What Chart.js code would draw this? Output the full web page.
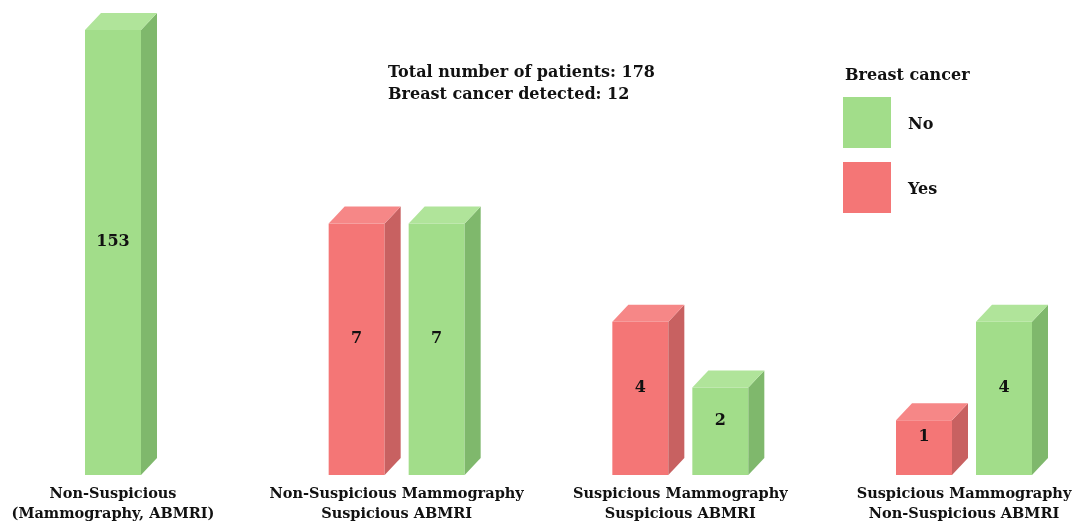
<!DOCTYPE html>
<html>
<head>
<meta charset="utf-8">
<script src="https://cdn.jsdelivr.net/npm/chart.js@4.4.1/dist/chart.umd.min.js"></script>
<style>
  html, body { margin: 0; padding: 0; background: #fff; }
  #wrap { width: 1072px; height: 528px; }
</style>
</head>
<body>
<div id="wrap"><canvas id="chart"></canvas></div>
<script>
const categories = [
  ["Non-Suspicious", "(Mammography, ABMRI)"],
  ["Non-Suspicious Mammography", "Suspicious ABMRI"],
  ["Suspicious Mammography", "Suspicious ABMRI"],
  ["Suspicious Mammography", "Non-Suspicious ABMRI"]
]
const cancerYes = [null, 7, 4, 1]
const cancerNo = [153, 7, 2, 4]
const legendTitle = "Breast cancer"

const FONT = "'DejaVu Serif', serif"
const RED = { front: "#f47676", side: "#c86161", top: "#f68787" }
const GREEN = { front: "#a2dd8a", side: "#7fb86c", top: "#b0e49a" }
const DX = 16, DY = 17
const Y_MIN = -0.67

// linear scale with a break: values above breakAt are squeezed into the top part
class BrokenScale extends Chart.LinearScale {
  static id = "broken"
  static defaults = Chart.LinearScale.defaults

  getPixelForValue(value) {
    if (value === null || value === undefined) return NaN
    const { min, max } = this
    const brk = this.options.breakAt
    const r = this.options.breakRatio
    let f
    if (value <= brk) f = (value - min) / (brk - min) * r
    else f = r + (value - brk) / (max - brk) * (1 - r)
    return this.getPixelForDecimal(f)
  }

  getValueForPixel(pixel) {
    const { min, max } = this
    const brk = this.options.breakAt
    const r = this.options.breakRatio
    const f = this.getDecimalForPixel(pixel)
    if (f <= r) return min + f / r * (brk - min)
    return brk + (f - r) / (1 - r) * (max - brk)
  }
}
Chart.register(BrokenScale)

function sum(arr) {
  return arr.reduce((a, b) => a + (b || 0), 0)
}

function poly(ctx, pts) {
  ctx.beginPath()
  ctx.moveTo(pts[0][0], pts[0][1])
  pts.slice(1).forEach(p => ctx.lineTo(p[0], p[1]))
  ctx.closePath()
  ctx.fill()
}

const boxes3d = {
  id: "boxes3d",
  afterDatasetsDraw(chart) {
    const ctx = chart.ctx
    ctx.save()
    chart.data.datasets.forEach((ds, di) => {
      const meta = chart.getDatasetMeta(di)
      meta.data.forEach((bar, i) => {
        const v = ds.data[i]
        if (v === null) return
        const { x, y, base, width } = bar.getProps(["x", "y", "base", "width"], true)
        const l = x - width / 2, r = x + width / 2
        ctx.fillStyle = ds.face.side
        poly(ctx, [[r, y], [r + DX, y - DY], [r + DX, base - DY], [r, base]])
        ctx.fillStyle = ds.face.top
        poly(ctx, [[l, y], [l + DX, y - DY], [r + DX, y - DY], [r, y]])

        ctx.fillStyle = "#111"
        ctx.font = "bold 16px " + FONT
        ctx.textAlign = "center"
        ctx.textBaseline = "middle"
        ctx.fillText(String(v), x, (y - DY + base) / 2 - 2)
      })
    })
    ctx.restore()
  }
}

const header = {
  id: "header",
  afterDraw(chart) {
    const ctx = chart.ctx
    ctx.save()
    ctx.fillStyle = "#111"
    ctx.font = "bold 16px " + FONT
    ctx.textAlign = "left"
    ctx.textBaseline = "alphabetic"
    ctx.fillText("Total number of patients: " + (sum(cancerYes) + sum(cancerNo)), 388, 77)
    ctx.fillText("Breast cancer detected: " + sum(cancerYes), 388, 99)

    // legend, "No" first
    ctx.fillText(legendTitle, 845, 80)
    const items = chart.data.datasets.slice().reverse()
    items.forEach((ds, k) => {
      const top = 97 + k * 65
      ctx.fillStyle = ds.face.front
      ctx.fillRect(843, top, 48, 51)
      ctx.fillStyle = "#111"
      ctx.fillText(ds.label, 908, top + 32)
    })
    ctx.restore()
  }
}

new Chart(document.getElementById("chart"), {
  type: "bar",
  data: {
    labels: categories,
    datasets: [
      { label: "Yes", data: cancerYes, backgroundColor: RED.front, face: RED },
      { label: "No", data: cancerNo, backgroundColor: GREEN.front, face: GREEN }
    ]
  },
  options: {
    responsive: true,
    maintainAspectRatio: false,
    animation: false,
    devicePixelRatio: 1,
    layout: { padding: { left: 113, right: 108, top: 30, bottom: 0 } },
    datasets: {
      bar: {
        base: Y_MIN,
        skipNull: true,
        clip: false,
        categoryPercentage: 0.564,
        barPercentage: 0.7,
        maxBarThickness: 56,
        borderWidth: 0
      }
    },
    plugins: {
      legend: { display: false },
      tooltip: { enabled: false }
    },
    scales: {
      x: {
        offset: false,
        grid: { display: false, drawTicks: false },
        border: { display: false },
        ticks: {
          padding: 9,
          color: "#111",
          maxRotation: 0,
          autoSkip: false,
          font: { family: FONT, size: 14.5, weight: "bold", lineHeight: 1.38 }
        },
        afterFit(scale) {
          scale.paddingLeft = 0
          scale.paddingRight = 0
          scale.height = 53
        }
      },
      y: {
        type: "broken",
        display: false,
        bounds: "data",
        min: Y_MIN,
        max: 153,
        breakAt: 8,
        breakRatio: 0.639
      }
    }
  },
  plugins: [boxes3d, header]
})
</script>
</body>
</html>
